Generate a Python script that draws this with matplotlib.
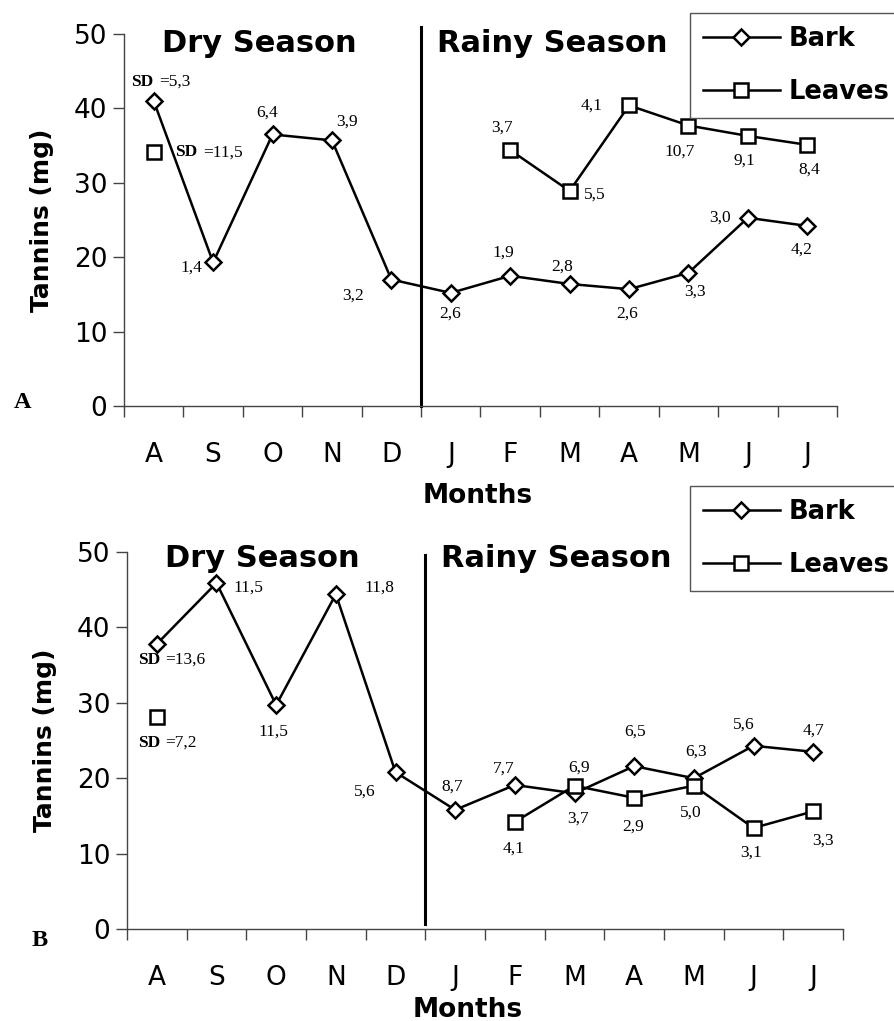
import numpy as np
import matplotlib
matplotlib.use('Agg')
import matplotlib.pyplot as plt
from matplotlib.lines import Line2D

nan = np.nan

months = ['A', 'S', 'O', 'N', 'D', 'J', 'F', 'M', 'A', 'M', 'J', 'J']

# panel A
bark_a = [41.0, 19.3, 36.5, 35.7, 17.0, 15.2, 17.5, 16.4, 15.7, 17.9, 25.3, 24.2]
leaves_a = [34.1, nan, nan, nan, nan, nan, 34.4, 28.9, 40.4, 37.7, 36.3, 35.1]
bark_a_sd = ['5,3', '1,4', '6,4', '3,9', '3,2', '2,6', '1,9', '2,8', '2,6', '3,3', '3,0', '4,2']
leaves_a_sd = ['11,5', '', '', '', '', '', '3,7', '5,5', '4,1', '10,7', '9,1', '8,4']

# panel B
bark_b = [37.8, 45.9, 29.7, 44.4, 20.8, 15.8, 19.1, 18.0, 21.6, 20.0, 24.3, 23.5]
leaves_b = [28.1, nan, nan, nan, nan, nan, 14.2, 19.0, 17.4, 19.0, 13.4, 15.6]
bark_b_sd = ['13,6', '11,5', '11,5', '11,8', '5,6', '8,7', '7,7', '3,7', '6,5', '6,3', '5,6', '4,7']
leaves_b_sd = ['7,2', '', '', '', '', '', '4,1', '6,9', '2,9', '5,0', '3,1', '3,3']

# label offsets (image pixels, x right / y down) relative to the marker
off_bark_a = [(0, -19), (-22, 5), (-5, -22), (15, -19), (-38, 16), (-1, 21),
              (-7, -23), (-7, -17), (-2, 24), (7, 19), (-28, 0), (-6, 24)]
off_leaves_a = [(44, 0), None, None, None, None, None,
                (-8, -22), (25, 4), (-37, 0), (-9, 26), (-3, 25), (2, 25)]
off_bark_b = [(3, 16), (32, 5), (-3, 27), (44, -7), (-31, 19), (-3, -23),
              (-11, -16), (3, 25), (1, -34), (2, -27), (-10, -21), (0, -21)]
off_leaves_b = [(3, 26), None, None, None, None, None,
                (-1, 27), (5, -18), (-1, 29), (-3, 27), (-2, 25), (10, 29)]

W, H = 895, 1021
fig = plt.figure(figsize=(W / 100, H / 100), dpi=100)

serif = 'Liberation Serif'
num_size = 12.5
line_kw = dict(color='black', lw=1.8, mfc='white', mec='black', mew=1.8)
ms_d, ms_s = 8.3, 10.0


def annotate(ax, x, y, text, off, first):
    dx, dy = off
    if first:
        ax.annotate('SD', (x, y), xytext=(dx, -dy), textcoords='offset pixels',
                    ha='right', va='center', family=serif, fontsize=num_size,
                    fontweight='bold')
        ax.annotate('=' + text, (x, y), xytext=(dx + 5, -dy), textcoords='offset pixels',
                    ha='left', va='center', family=serif, fontsize=num_size)
    else:
        ax.annotate(text, (x, y), xytext=(dx, -dy), textcoords='offset pixels',
                    ha='center', va='center', family=serif, fontsize=num_size)


def panel(rect, bark, leaves, bark_sd, leaves_sd, off_b, off_l, vline, season_y,
          season_x, letter, letter_pos, months_pos, legend_top):
    ax = fig.add_axes(rect)
    x = np.arange(len(months))
    ax.plot(x, bark, marker='D', ms=ms_d, **line_kw, zorder=3)
    ax.plot(x, leaves, marker='s', ms=ms_s, **line_kw, zorder=4)
    ax.plot([4.5, 4.5], vline, color='black', lw=2.2, zorder=2, clip_on=False)

    ax.set_xlim(-0.5, 11.5)
    ax.set_ylim(0, 50)
    ax.set_yticks([0, 10, 20, 30, 40, 50])
    ax.set_xticks(np.arange(-0.5, 12, 1))
    ax.set_xticklabels([])
    ax.set_xticks(x, minor=True)
    ax.set_xticklabels(months, minor=True)
    ax.tick_params(axis='x', which='major', length=8, width=1, color='#444444')
    ax.tick_params(axis='x', which='minor', length=0, pad=26, labelsize=19)
    ax.tick_params(axis='y', length=8, width=1, color='#444444', pad=4, labelsize=19)
    for s in ['top', 'right']:
        ax.spines[s].set_visible(False)
    for s in ['left', 'bottom']:
        ax.spines[s].set_color('#444444')
        ax.spines[s].set_linewidth(1)
    ax.set_ylabel('Tannins (mg)', fontsize=18, fontweight='bold', labelpad=14)

    for i in range(len(months)):
        annotate(ax, x[i], bark[i], bark_sd[i], off_b[i], i == 0)
        if off_l[i] is not None:
            annotate(ax, x[i], leaves[i], leaves_sd[i], off_l[i], i == 0)

    ax.text(season_x[0], season_y, 'Dry Season', ha='left', va='baseline',
            fontsize=22, fontweight='bold')
    ax.text(season_x[1], season_y, 'Rainy Season', ha='left', va='baseline',
            fontsize=22, fontweight='bold')

    fig.text(letter_pos[0], letter_pos[1], letter, ha='center', va='center',
             family=serif, fontsize=17.5, fontweight='bold')
    fig.text(months_pos[0], months_pos[1], 'Months', ha='center', va='baseline',
             fontsize=19, fontweight='bold')

    handles = [Line2D([], [], marker='D', ms=ms_d, **line_kw),
               Line2D([], [], marker='s', ms=ms_s, **line_kw)]
    leg = ax.legend(handles, ['Bark', 'Leaves'], loc='upper left',
                    bbox_to_anchor=(690 / W, legend_top), bbox_transform=fig.transFigure,
                    borderaxespad=0, fancybox=False, framealpha=1, edgecolor='#555555',
                    prop={'size': 18.5, 'weight': 'bold'}, numpoints=1,
                    handlelength=3.0, handletextpad=0.35, labelspacing=1.05,
                    borderpad=0.5)
    leg.get_frame().set_linewidth(1)
    return ax


panel([124 / W, 1 - 406 / H, 713 / W, 372 / H], bark_a, leaves_a, bark_a_sd, leaves_a_sd,
      off_bark_a, off_leaves_a, (0, 50.9), 47.6, (0.14, 4.77), 'A',
      (23 / W, 1 - 402 / H), (478 / W, 1 - 503 / H), 1 - 13 / H)

panel([127 / W, 1 - 929 / H, 716 / W, 377 / H], bark_b, leaves_b, bark_b_sd, leaves_b_sd,
      off_bark_b, off_leaves_b, (0.7, 49.6), 48.0, (0.137, 4.76), 'B',
      (40 / W, 1 - 940 / H), (468 / W, 1 - 1017 / H), 1 - 486 / H)

fig.savefig('out.png', dpi=100)
